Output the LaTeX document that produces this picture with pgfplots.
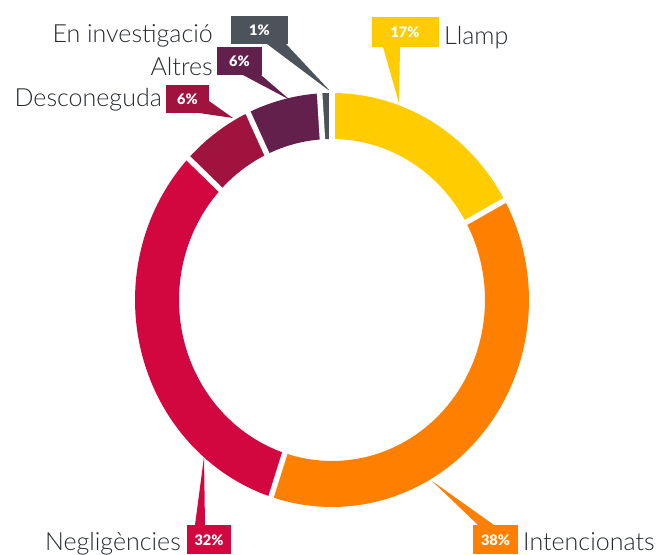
\documentclass[border=0pt]{standalone}
\usepackage{fontspec}
\setmainfont{Lato}
\newfontfamily\lightfont{Lato}[UprightFont={* Light}]
\newfontfamily\heavyfont{Lato}[UprightFont={* Black}]
\usepackage{pgfplots}
\usepackage{pgfplotstable}
\pgfplotsset{compat=1.18}

\definecolor{cLlamp}{HTML}{FFCC00}
\definecolor{cInt}{HTML}{FF8000}
\definecolor{cNeg}{HTML}{D2073F}
\definecolor{cDes}{HTML}{A0133F}
\definecolor{cAlt}{HTML}{63204D}
\definecolor{cInv}{HTML}{4D535A}
\definecolor{txt}{HTML}{262B30}

\newcommand\lbl{\lightfont\fontsize{25}{28}\selectfont}
\newcommand\pct{\heavyfont\fontsize{14.5}{16}\selectfont}

% share of each cause, clockwise from the top
\pgfplotstableread{
value color
17 cLlamp
38 cInt
32 cNeg
6 cDes
6 cAlt
1 cInv
}\piedata

\begin{document}
\begin{tikzpicture}
\begin{axis}[
    name=ax, hide axis, scale only axis, clip=false,
    width=661pt, height=554pt,
    xmin=0, xmax=661, ymin=0, ymax=554, y dir=reverse
]
    % leader wedges
    \fill[cLlamp] (383,47) -- (400,47) -- (399,103) -- cycle;
    \fill[cInv] (267,44) -- (286,44) -- (331,92) -- cycle;
    \fill[cAlt] (243,75) -- (261,75) -- (290,100) -- cycle;
    \fill[cDes] (199,113) -- (209,101) -- (233,118) -- cycle;
    \fill[cNeg] (195,525) -- (205,525) -- (204,457) -- cycle;
    \fill[cInt] (432,481) -- (478,525) -- (494,525) -- cycle;

    % donut ring
    \pgfplotsextra{
        \def\cum{0}
        \pgfplotsforeachungrouped \i in {0,...,5}{%
            \pgfplotstablegetelem{\i}{value}\of\piedata \let\v=\pgfplotsretval
            \pgfplotstablegetelem{\i}{color}\of\piedata \let\col=\pgfplotsretval
            \pgfmathsetmacro\aA{90-3.6*\cum}
            \pgfmathsetmacro\cum{\cum+\v}
            \pgfmathsetmacro\aB{90-3.6*\cum}
            \fill[\col] plot[domain=\aA:\aB, samples=60, variable=\t]
                ({332+197*cos(\t)},{300-207*sin(\t)})
                -- plot[domain=\aB:\aA, samples=60, variable=\t]
                ({332+153*cos(\t)},{300-161*sin(\t)}) -- cycle;
        }
        \def\cum{0}
        \pgfplotsforeachungrouped \i in {0,...,5}{%
            \pgfplotstablegetelem{\i}{value}\of\piedata \let\v=\pgfplotsretval
            \pgfmathsetmacro\aA{90-3.6*\cum}
            \pgfmathsetmacro\cum{\cum+\v}
            \draw[white, line width=5.5pt]
                ({332+148*cos(\aA)},{300-156*sin(\aA)}) --
                ({332+202*cos(\aA)},{300-212*sin(\aA)});
        }
    }

    % value boxes
    \fill[cLlamp] (372,17) rectangle (439,47);
    \node[text=white, font=\pct] at (405,32) {17\%};
    \fill[cInv] (231,16) rectangle (288,44);
    \node[text=white, font=\pct] at (259.5,30) {1\%};
    \fill[cAlt] (217,47) rectangle (262,75);
    \node[text=white, font=\pct] at (239.5,61) {6\%};
    \fill[cDes] (166,85) rectangle (209,113);
    \node[text=white, font=\pct] at (187.5,99) {6\%};
    \fill[cNeg] (187,525) rectangle (231,554);
    \node[text=white, font=\pct] at (209,540) {32\%};
    \fill[cInt] (473,525) rectangle (518,554);
    \node[text=white, font=\pct] at (495.5,540) {38\%};

    % category labels
    \node[anchor=base west, inner sep=0, text=txt, font=\lbl] at (444,44) {Llamp};
    \node[anchor=base west, inner sep=0, text=txt, font=\lbl] at (523,550) {Intencionats};
    \node[anchor=base east, inner sep=0, text=txt, font=\lbl] at (181,550) {Negligències};
    \node[anchor=base east, inner sep=0, text=txt, font=\lbl] at (162,106) {Desconeguda};
    \node[anchor=base east, inner sep=0, text=txt, font=\lbl] at (213,75) {Altres};
    \node[anchor=base east, inner sep=0, text=txt, font=\lbl] at (213,42) {En investigació};
\end{axis}
\pgfresetboundingbox
\path[use as bounding box] (ax.south west) rectangle (ax.north east);
\end{tikzpicture}
\end{document}
